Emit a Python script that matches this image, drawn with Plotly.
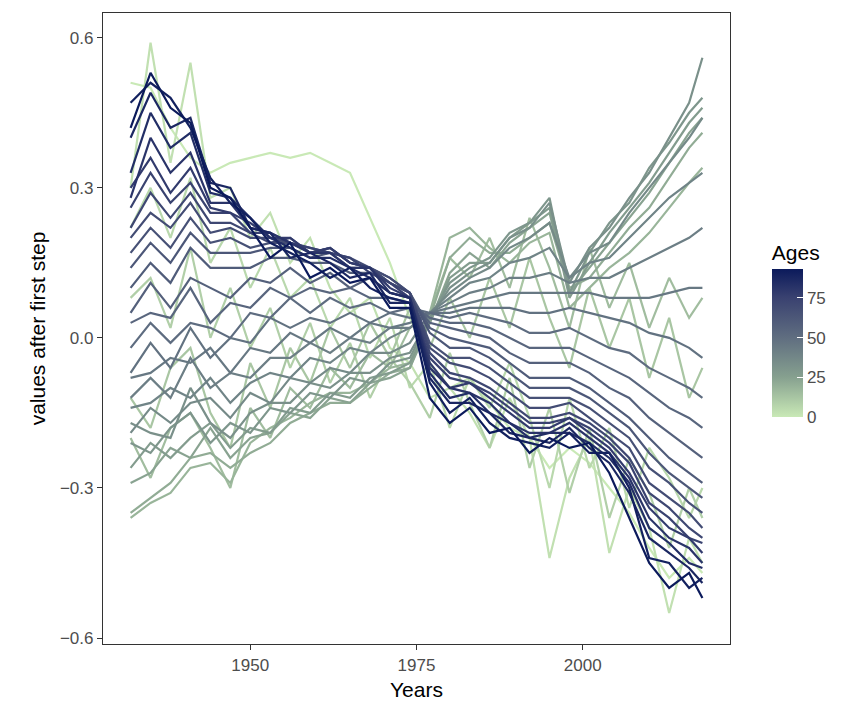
import plotly.graph_objects as go
from plotly.colors import sample_colorscale

years = [1932, 1935, 1938, 1941, 1944, 1947, 1950, 1953, 1956, 1959, 1962, 1965, 1968, 1971, 1974,
         1977, 1980, 1983, 1986, 1989, 1992, 1995, 1998, 2001, 2004, 2007, 2010, 2013, 2016, 2018]

age_0 = [0.51, 0.50, 0.42, 0.36, 0.33, 0.35, 0.36, 0.37, 0.36, 0.37, 0.35, 0.33, 0.24, 0.15, 0.04, -0.05, -0.10, -0.08, -0.13, -0.18, -0.20, -0.26, -0.22, -0.25, -0.30, -0.35, -0.42, -0.48, -0.44, -0.47]
age_3 = [0.30, 0.59, 0.35, 0.55, 0.28, 0.30, 0.20, 0.25, 0.15, 0.20, 0.10, 0.05, 0.08, -0.02, -0.05, -0.12, -0.10, -0.15, -0.22, -0.12, -0.20, -0.44, -0.28, -0.20, -0.43, -0.30, -0.38, -0.55, -0.40, -0.45]
age_6 = [0.22, 0.30, 0.20, 0.32, 0.15, 0.22, 0.10, 0.18, 0.08, 0.12, 0.02, 0.08, -0.04, 0.04, -0.10, -0.05, -0.18, -0.08, -0.14, -0.05, -0.16, -0.30, -0.12, -0.26, -0.18, -0.34, -0.22, -0.28, -0.36, -0.30]
age_9 = [0.08, 0.12, 0.02, 0.18, 0.00, 0.10, -0.02, 0.06, -0.06, 0.03, -0.09, -0.01, -0.12, -0.04, -0.09, -0.16, -0.03, -0.13, -0.22, -0.08, -0.26, -0.14, -0.31, -0.18, -0.36, -0.24, -0.31, -0.42, -0.30, -0.36]
age_12 = [-0.12, -0.18, -0.06, -0.02, -0.15, -0.22, -0.05, -0.14, -0.02, -0.09, 0.02, -0.06, 0.03, -0.04, 0.06, -0.02, 0.08, 0.00, 0.12, 0.02, 0.16, 0.04, -0.06, 0.10, -0.02, 0.08, -0.08, 0.04, -0.12, -0.06]
age_15 = [-0.20, -0.28, -0.18, -0.15, -0.22, -0.30, -0.14, -0.20, -0.10, -0.14, -0.06, -0.10, -0.03, -0.06, 0.02, 0.05, 0.16, 0.12, 0.20, 0.10, 0.24, 0.14, 0.02, 0.18, 0.06, 0.15, 0.02, 0.12, 0.04, 0.08]
age_18 = [-0.36, -0.33, -0.31, -0.26, -0.25, -0.29, -0.21, -0.18, -0.16, -0.13, -0.11, -0.11, -0.09, -0.06, -0.05, 0.05, 0.20, 0.22, 0.18, 0.15, 0.19, 0.21, 0.06, 0.10, 0.14, 0.17, 0.21, 0.26, 0.31, 0.34]
age_21 = [-0.35, -0.32, -0.29, -0.24, -0.23, -0.26, -0.23, -0.21, -0.17, -0.15, -0.13, -0.13, -0.10, -0.07, -0.06, 0.04, 0.16, 0.20, 0.17, 0.17, 0.20, 0.23, 0.10, 0.12, 0.17, 0.22, 0.26, 0.32, 0.38, 0.41]
age_24 = [-0.29, -0.27, -0.22, -0.24, -0.18, -0.24, -0.20, -0.19, -0.15, -0.16, -0.12, -0.13, -0.09, -0.08, -0.06, 0.03, 0.13, 0.17, 0.14, 0.19, 0.22, 0.25, 0.09, 0.14, 0.19, 0.24, 0.29, 0.35, 0.41, 0.44]
age_27 = [-0.26, -0.21, -0.24, -0.20, -0.17, -0.22, -0.18, -0.19, -0.14, -0.15, -0.11, -0.12, -0.08, -0.07, -0.05, 0.03, 0.12, 0.15, 0.15, 0.20, 0.23, 0.26, 0.08, 0.15, 0.21, 0.26, 0.31, 0.37, 0.43, 0.46]
age_30 = [-0.21, -0.23, -0.18, -0.15, -0.21, -0.17, -0.19, -0.14, -0.15, -0.11, -0.12, -0.08, -0.09, -0.05, -0.04, 0.04, 0.11, 0.14, 0.16, 0.21, 0.23, 0.28, 0.09, 0.17, 0.23, 0.27, 0.34, 0.39, 0.45, 0.48]
age_33 = [-0.17, -0.19, -0.20, -0.10, -0.17, -0.20, -0.15, -0.13, -0.13, -0.09, -0.10, -0.07, -0.07, -0.04, -0.03, 0.04, 0.10, 0.13, 0.15, 0.20, 0.22, 0.27, 0.11, 0.18, 0.22, 0.28, 0.33, 0.40, 0.47, 0.56]
age_36 = [-0.19, -0.14, -0.17, -0.13, -0.12, -0.16, -0.11, -0.13, -0.08, -0.09, -0.06, -0.07, -0.03, -0.03, -0.01, 0.05, 0.09, 0.12, 0.14, 0.18, 0.20, 0.23, 0.12, 0.17, 0.19, 0.25, 0.30, 0.35, 0.40, 0.44]
age_39 = [-0.14, -0.13, -0.10, -0.12, -0.08, -0.13, -0.09, -0.07, -0.08, -0.04, -0.05, -0.02, -0.03, 0.00, 0.02, 0.05, 0.08, 0.11, 0.12, 0.15, 0.16, 0.18, 0.12, 0.15, 0.16, 0.20, 0.24, 0.28, 0.31, 0.33]
age_42 = [-0.12, -0.08, -0.12, -0.04, -0.10, -0.07, -0.08, -0.04, -0.04, -0.01, -0.03, 0.00, -0.01, 0.02, 0.02, 0.05, 0.07, 0.09, 0.10, 0.12, 0.12, 0.13, 0.11, 0.12, 0.12, 0.14, 0.16, 0.18, 0.20, 0.22]
age_45 = [-0.08, -0.07, -0.04, -0.05, -0.02, -0.07, -0.02, -0.03, 0.01, -0.01, 0.02, 0.00, 0.03, 0.02, 0.03, 0.05, 0.06, 0.07, 0.08, 0.09, 0.09, 0.09, 0.09, 0.09, 0.08, 0.08, 0.08, 0.09, 0.10, 0.10]
age_48 = [-0.07, -0.01, -0.06, 0.02, -0.04, 0.00, -0.01, 0.04, 0.02, 0.04, 0.03, 0.05, 0.03, 0.05, 0.04, 0.05, 0.05, 0.06, 0.06, 0.06, 0.05, 0.05, 0.06, 0.05, 0.04, 0.03, 0.01, 0.00, -0.02, -0.04]
age_51 = [-0.02, 0.03, -0.01, 0.03, 0.02, 0.00, 0.05, 0.04, 0.08, 0.05, 0.08, 0.06, 0.07, 0.05, 0.06, 0.05, 0.04, 0.05, 0.04, 0.03, 0.01, 0.01, 0.02, 0.00, -0.02, -0.03, -0.06, -0.08, -0.10, -0.12]
age_54 = [0.03, 0.05, 0.04, 0.10, 0.03, 0.07, 0.06, 0.10, 0.08, 0.10, 0.09, 0.10, 0.08, 0.08, 0.07, 0.04, 0.03, 0.03, 0.02, 0.00, -0.02, -0.02, -0.02, -0.04, -0.06, -0.08, -0.11, -0.14, -0.16, -0.18]
age_57 = [0.05, 0.11, 0.06, 0.12, 0.10, 0.08, 0.12, 0.11, 0.14, 0.11, 0.13, 0.10, 0.12, 0.09, 0.08, 0.03, 0.02, 0.01, 0.00, -0.03, -0.05, -0.05, -0.05, -0.07, -0.10, -0.12, -0.16, -0.19, -0.22, -0.24]
age_60 = [0.10, 0.15, 0.11, 0.18, 0.14, 0.14, 0.14, 0.16, 0.16, 0.15, 0.15, 0.13, 0.13, 0.11, 0.09, 0.02, 0.00, -0.01, -0.02, -0.05, -0.08, -0.08, -0.08, -0.10, -0.13, -0.16, -0.20, -0.24, -0.27, -0.29]
age_63 = [0.14, 0.19, 0.15, 0.21, 0.17, 0.17, 0.17, 0.18, 0.18, 0.16, 0.17, 0.14, 0.14, 0.11, 0.09, 0.01, -0.02, -0.02, -0.04, -0.07, -0.10, -0.10, -0.10, -0.12, -0.15, -0.18, -0.23, -0.27, -0.30, -0.32]
age_66 = [0.17, 0.22, 0.18, 0.24, 0.19, 0.20, 0.18, 0.19, 0.19, 0.17, 0.18, 0.15, 0.14, 0.12, 0.09, -0.01, -0.04, -0.04, -0.06, -0.09, -0.12, -0.12, -0.12, -0.14, -0.17, -0.20, -0.26, -0.29, -0.33, -0.35]
age_69 = [0.20, 0.25, 0.22, 0.27, 0.21, 0.22, 0.20, 0.20, 0.19, 0.18, 0.17, 0.16, 0.14, 0.12, 0.09, -0.02, -0.05, -0.06, -0.08, -0.11, -0.14, -0.14, -0.13, -0.16, -0.19, -0.22, -0.29, -0.32, -0.35, -0.38]
age_72 = [0.22, 0.29, 0.24, 0.29, 0.23, 0.23, 0.21, 0.19, 0.20, 0.17, 0.18, 0.15, 0.14, 0.11, 0.09, -0.03, -0.07, -0.08, -0.10, -0.13, -0.16, -0.16, -0.15, -0.17, -0.20, -0.24, -0.31, -0.34, -0.38, -0.40]
age_75 = [0.26, 0.33, 0.27, 0.31, 0.25, 0.25, 0.21, 0.21, 0.19, 0.18, 0.17, 0.16, 0.13, 0.11, 0.08, -0.04, -0.08, -0.09, -0.11, -0.14, -0.17, -0.17, -0.16, -0.18, -0.21, -0.25, -0.33, -0.36, -0.40, -0.41]
age_78 = [0.30, 0.36, 0.29, 0.34, 0.26, 0.25, 0.23, 0.20, 0.20, 0.17, 0.18, 0.15, 0.14, 0.10, 0.08, -0.05, -0.10, -0.09, -0.12, -0.15, -0.18, -0.18, -0.16, -0.19, -0.22, -0.27, -0.34, -0.38, -0.40, -0.43]
age_81 = [0.28, 0.40, 0.33, 0.37, 0.27, 0.27, 0.22, 0.21, 0.19, 0.17, 0.17, 0.14, 0.14, 0.09, 0.08, -0.06, -0.10, -0.11, -0.13, -0.17, -0.19, -0.19, -0.17, -0.20, -0.23, -0.28, -0.36, -0.40, -0.42, -0.45]
age_84 = [0.33, 0.45, 0.38, 0.41, 0.29, 0.28, 0.24, 0.20, 0.18, 0.16, 0.16, 0.14, 0.12, 0.09, 0.08, -0.07, -0.12, -0.11, -0.15, -0.17, -0.20, -0.19, -0.19, -0.21, -0.24, -0.29, -0.38, -0.41, -0.45, -0.46]
age_87 = [0.40, 0.49, 0.42, 0.44, 0.31, 0.30, 0.22, 0.21, 0.16, 0.17, 0.15, 0.12, 0.13, 0.07, 0.07, -0.08, -0.13, -0.13, -0.15, -0.19, -0.20, -0.21, -0.18, -0.22, -0.25, -0.31, -0.40, -0.43, -0.46, -0.49]
age_90 = [0.47, 0.51, 0.48, 0.42, 0.32, 0.27, 0.24, 0.19, 0.17, 0.15, 0.12, 0.14, 0.10, 0.08, 0.07, -0.09, -0.15, -0.12, -0.17, -0.20, -0.21, -0.22, -0.19, -0.23, -0.23, -0.30, -0.44, -0.45, -0.50, -0.48]
age_93 = [0.42, 0.53, 0.46, 0.43, 0.30, 0.28, 0.22, 0.16, 0.19, 0.12, 0.14, 0.11, 0.12, 0.06, 0.06, -0.12, -0.17, -0.14, -0.19, -0.18, -0.23, -0.20, -0.22, -0.21, -0.27, -0.36, -0.45, -0.50, -0.47, -0.52]

ages = [0, 3, 6, 9, 12, 15, 18, 21, 24, 27, 30, 33, 36, 39, 42, 45,
        48, 51, 54, 57, 60, 63, 66, 69, 72, 75, 78, 81, 84, 87, 90, 93]
series = [age_0, age_3, age_6, age_9, age_12, age_15, age_18, age_21, age_24, age_27, age_30,
          age_33, age_36, age_39, age_42, age_45, age_48, age_51, age_54, age_57, age_60,
          age_63, age_66, age_69, age_72, age_75, age_78, age_81, age_84, age_87, age_90, age_93]

y_ticks = [-0.6, -0.3, 0.0, 0.3, 0.6]
y_tick_text = ["\u22120.6", "\u22120.3", "0.0", "0.3", "0.6"]
x_ticks = [1950, 1975, 2000]
cbar_ticks = [0, 25, 50, 75]

AGE_MAX = 93
colorscale = [
    [0.0, "#c9e9b6"],
    [0.27, "#86a08f"],
    [0.54, "#5f6d80"],
    [0.81, "#394170"],
    [1.0, "#0b1a5b"],
]

FONT = "Liberation Sans, Arial, Helvetica, sans-serif"

fig = go.Figure()
for age, vals in zip(ages, series):
    col = sample_colorscale(colorscale, [age / AGE_MAX])[0]
    fig.add_trace(go.Scatter(x=years, y=vals, mode="lines",
                             line=dict(color=col, width=2.2),
                             showlegend=False, hoverinfo="skip"))

fig.add_trace(go.Scatter(
    x=[None], y=[None], mode="markers", showlegend=False, hoverinfo="skip",
    marker=dict(color=[0], cmin=0, cmax=AGE_MAX, colorscale=colorscale, showscale=True,
                colorbar=dict(
                    x=(775 - 103) / 630, xanchor="left", xpad=0,
                    y=1 - (420 - 12) / 637, yanchor="bottom", ypad=0,
                    len=176, lenmode="pixels", thickness=31, thicknessmode="pixels",
                    outlinewidth=0, tickvals=cbar_ticks, ticks="inside", ticklen=6,
                    tickcolor="white", tickwidth=1,
                    tickfont=dict(size=17, color="#4d4d4d", family=FONT),
                    title=dict(text="Ages", side="top", font=dict(size=21, color="black", family=FONT)),
                ))))

axis_common = dict(showgrid=False, zeroline=False, showline=True, mirror=True,
                   linecolor="#333333", linewidth=1.2, ticks="outside", ticklen=5,
                   tickcolor="#333333", tickwidth=1.1,
                   tickfont=dict(size=17, color="#4d4d4d", family=FONT))

fig.update_layout(
    width=844, height=709,
    margin=dict(l=103, r=111, t=12, b=60),
    paper_bgcolor="white", plot_bgcolor="white",
    font=dict(family=FONT),
    xaxis=dict(range=[1927.85, 2022.15], tickvals=x_ticks,
               title=dict(text="Years", font=dict(size=21, color="black", family=FONT), standoff=8),
               **axis_common),
    yaxis=dict(range=[-0.612, 0.6495], tickvals=y_ticks, ticktext=y_tick_text,
               title=dict(text="values after first step", font=dict(size=21, color="black", family=FONT), standoff=8),
               **axis_common),
)

fig.write_html("out.html")
